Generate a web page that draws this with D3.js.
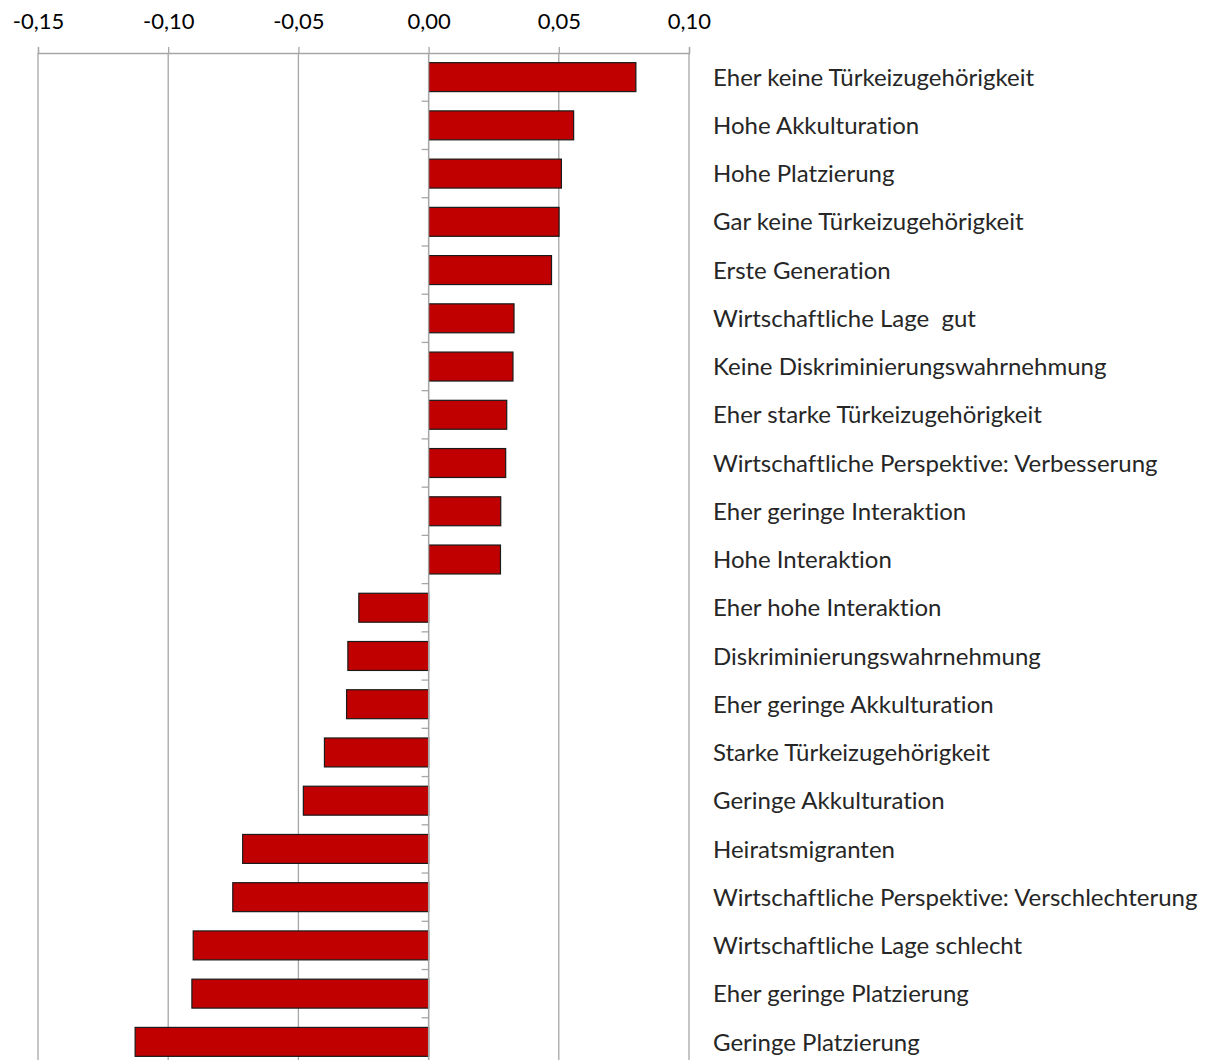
<!DOCTYPE html>
<html><head><meta charset="utf-8">
<script src="https://cdn.jsdelivr.net/npm/d3@7"></script>
<style>body{margin:0;background:#fff;} svg{display:block;} text{font-variant-ligatures:none;}</style>
</head><body>
<svg id="chart" width="1211" height="1060"></svg>
<script>
const categories = [
  "Eher keine Türkeizugehörigkeit",
  "Hohe Akkulturation",
  "Hohe Platzierung",
  "Gar keine Türkeizugehörigkeit",
  "Erste Generation",
  "Wirtschaftliche Lage  gut",
  "Keine Diskriminierungswahrnehmung",
  "Eher starke Türkeizugehörigkeit",
  "Wirtschaftliche Perspektive: Verbesserung",
  "Eher geringe Interaktion",
  "Hohe Interaktion",
  "Eher hohe Interaktion",
  "Diskriminierungswahrnehmung",
  "Eher geringe Akkulturation",
  "Starke Türkeizugehörigkeit",
  "Geringe Akkulturation",
  "Heiratsmigranten",
  "Wirtschaftliche Perspektive: Verschlechterung",
  "Wirtschaftliche Lage schlecht",
  "Eher geringe Platzierung",
  "Geringe Platzierung"
];
const values = [
  0.0796, 0.0557, 0.0510, 0.0501, 0.0472, 0.0328, 0.0324, 0.0300, 0.0296, 0.0277, 0.0276,
  -0.0268, -0.0310, -0.0315, -0.0400, -0.0481, -0.0714, -0.0752, -0.0904, -0.0909, -0.1127
];
const tickValues = [-0.15, -0.10, -0.05, 0.00, 0.05, 0.10];

(function () {
const svg = d3.select("#chart");
const mLeft = 38, mRight = 689, mTop = 53, mBottom = 1066;

const x = d3.scaleLinear().domain([-0.15, 0.10]).range([mLeft, mRight]);
const y = d3.scaleBand().domain(categories).range([mTop, mBottom]).paddingInner(0.4).paddingOuter(0.2);
const step = y.step();

// gridlines
svg.append("g").selectAll("line").data(tickValues).join("line")
  .attr("x1", d => x(d)).attr("x2", d => x(d))
  .attr("y1", mTop).attr("y2", 1060)
  .attr("stroke", "#a6a6a6").attr("stroke-width", 1.3);

// top axis
const xAxis = d3.axisTop(x).tickValues(tickValues).tickSize(6).tickPadding(18)
  .tickFormat(d => d3.format(".2f")(d).replace(".", ",").replace("−", "-"));
const gx = svg.append("g").attr("transform", `translate(0,${mTop})`).call(xAxis);
gx.select(".domain").attr("stroke", "#a6a6a6").attr("stroke-width", 1.3);
gx.selectAll(".tick line").attr("stroke", "#a6a6a6").attr("stroke-width", 1.3);
gx.selectAll(".tick text").attr("fill", "#000").style("font-family", "Lato, 'Noto Sans', sans-serif").style("font-size", "22px");

// bars
svg.append("g").selectAll("rect").data(values).join("rect")
  .attr("x", d => x(Math.min(0, d)))
  .attr("width", d => Math.abs(x(d) - x(0)))
  .attr("y", (d, i) => y(categories[i]))
  .attr("height", y.bandwidth())
  .attr("fill", "#c00000")
  .attr("stroke", "#1a1a1a").attr("stroke-width", 1.2);

// zero axis with category boundary ticks
svg.append("line").attr("x1", x(0)).attr("x2", x(0)).attr("y1", mTop).attr("y2", 1060)
  .attr("stroke", "#a6a6a6").attr("stroke-width", 1.3);
svg.append("g").selectAll("line").data(categories.slice(1)).join("line")
  .attr("x1", x(0) - 7).attr("x2", x(0))
  .attr("y1", d => y(d) - step * 0.2)
  .attr("y2", d => y(d) - step * 0.2)
  .attr("stroke", "#a6a6a6").attr("stroke-width", 1.3);

// labels
svg.append("g").selectAll("text").data(categories).join("text")
  .attr("x", 713)
  .attr("y", d => y(d) + y.bandwidth() / 2)
  .attr("dy", "0.36em")
  .attr("fill", "#262626")
  .style("font-family", "Lato, 'Noto Sans', sans-serif")
  .style("font-size", "24px")
  .style("white-space", "pre")
  .text(d => d);
})();
</script>
</body></html>
